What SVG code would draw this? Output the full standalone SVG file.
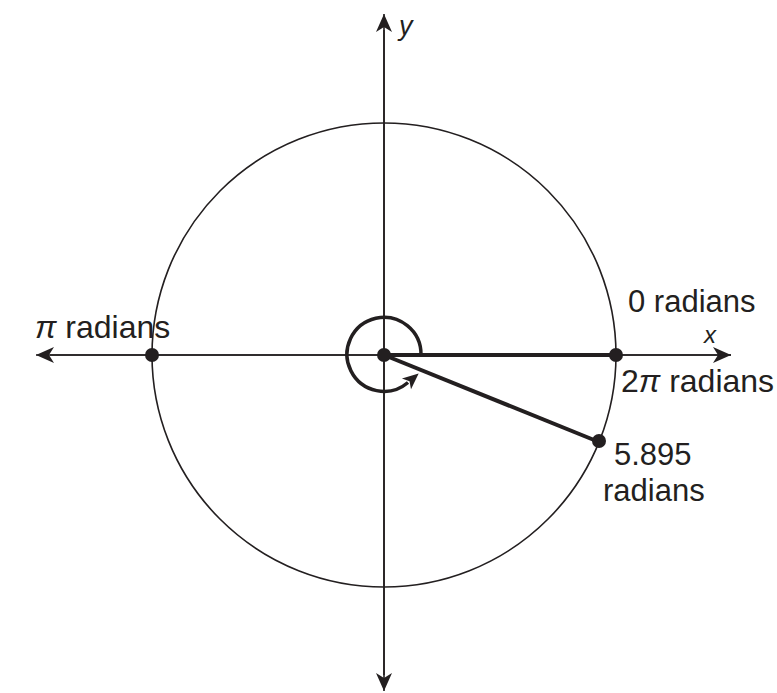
<svg xmlns="http://www.w3.org/2000/svg" width="777" height="693" viewBox="0 0 777 693">
<style>
.thin{fill:none;stroke:#231f20;stroke-width:1.6}
.thick{fill:none;stroke:#231f20;stroke-width:4}
.dot{fill:#231f20}
.lbl{font-family:"Liberation Sans",Arial,sans-serif;font-size:32px;fill:#231f20}
.it{font-style:italic}
</style>
<defs>
<marker id="ah" markerUnits="userSpaceOnUse" markerWidth="20" markerHeight="18" viewBox="-19 -9 20 18" refX="0" refY="0" orient="auto">
<path d="M0,0 L-18,-8 L-13,0 L-18,8 Z" fill="#231f20"/>
</marker>
<marker id="ahs" markerUnits="userSpaceOnUse" markerWidth="20" markerHeight="18" viewBox="-3 -9 20 18" refX="0" refY="0" orient="auto">
<path d="M14,0 L-2,-7 L2,0 L-2,7 Z" fill="#231f20"/>
</marker>
</defs>
<g id="axes">
<line class="thin" x1="50" y1="355" x2="731" y2="355" marker-end="url(#ah)"/>
<line class="thin" x1="731" y1="355" x2="36" y2="355" marker-end="url(#ah)"/>
<line class="thin" x1="384" y1="675" x2="384" y2="14" marker-end="url(#ah)"/>
<line class="thin" x1="384" y1="30" x2="384" y2="691" marker-end="url(#ah)"/>
</g>
<g id="circle">
<circle class="thin" cx="384" cy="355" r="232"/>
</g>
<g id="connectors">
<line class="thick" x1="384" y1="355" x2="616" y2="355"/>
<line class="thick" x1="384" y1="355" x2="599" y2="442"/>
<path class="thick" style="stroke-width:3.5" d="M421,355 A37,37 0 1 0 408,382.5" marker-end="url(#ahs)"/>
</g>
<g id="origin"><circle class="dot" cx="384" cy="355" r="7"/></g>
<g id="pt-pi"><circle class="dot" cx="152" cy="355" r="7"/></g>
<g id="pt-zero"><circle class="dot" cx="616" cy="355" r="7"/></g>
<g id="pt-5895"><circle class="dot" cx="599" cy="441" r="7"/></g>
<g id="labels">
<text class="lbl it" x="399" y="35" style="font-size:27px">y</text>
<text class="lbl it" x="704" y="343" style="font-size:24px">x</text>
<text class="lbl" x="628" y="312" style="font-size:31px">0 radians</text>
<text class="lbl" x="621" y="392">2<tspan class="it">π</tspan> radians</text>
<text class="lbl" x="35" y="338"><tspan class="it">π</tspan> radians</text>
<text class="lbl" x="614" y="465" style="font-size:31px">5.895</text>
<text class="lbl" x="603" y="501" style="font-size:31px">radians</text>
</g>
</svg>
